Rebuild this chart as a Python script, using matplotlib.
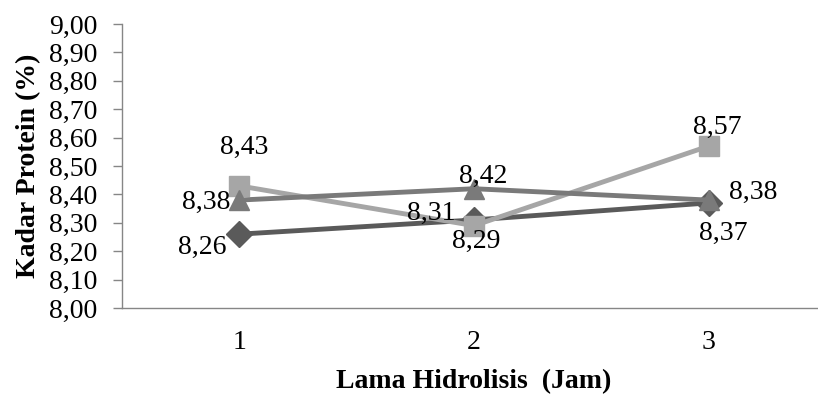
import matplotlib.pyplot as plt
import numpy as np

plt.rcParams['font.family'] = ['Liberation Serif', 'DejaVu Serif']

# --- data ---
jam = [1, 2, 3]
diamond_vals = [8.26, 8.31, 8.37]
square_vals = [8.43, 8.29, 8.57]
triangle_vals = [8.38, 8.42, 8.38]

yticks = np.round(np.arange(8.0, 9.001, 0.1), 2)

# label offsets in pixels (dx, dy, ha)
diamond_offs = [(-13, -13, 'right'), (-18, 7, 'right'), (15, -30, 'center')]
square_offs = [(5, 38, 'center'), (2, -16, 'center'), (9, 19, 'center')]
triangle_offs = [(-9, -2, 'right'), (9, 12, 'center'), (20, 8, 'left')]

FS = 20
W, H = 818, 396
fig = plt.figure(figsize=(W / 100, H / 100), dpi=100)
left, right, top, bottom = 122, 826, 24, 308
ax = fig.add_axes([left / W, 1 - bottom / H, (right - left) / W, (bottom - top) / H])

series = [
    (diamond_vals, 'D', '#5a5a5a', 13, diamond_offs),
    (square_vals, 's', '#a6a6a6', 15, square_offs),
    (triangle_vals, '^', '#7a7a7a', 15, triangle_offs),
]
for vals, mk, col, ms, offs in series:
    ax.plot(jam, vals, color=col, lw=3.5, marker=mk, ms=ms, mec=col, mfc=col, clip_on=False)
    for x, v, (dx, dy, ha) in zip(jam, vals, offs):
        ax.annotate(f"{v:.2f}".replace('.', ','), (x, v), xytext=(dx, dy),
                    textcoords='offset pixels', ha=ha, va='center', fontsize=FS, color='black')

ax.set_xlim(0.5, 3.5)
ax.set_ylim(8.0, 9.0)
ax.set_yticks(yticks)
ax.set_yticklabels([f"{t:.2f}".replace('.', ',') for t in yticks], fontsize=FS)
ax.set_xticks(jam)
ax.set_xticklabels([str(j) for j in jam], fontsize=FS)
ax.tick_params(axis='x', length=0, pad=16)
ax.tick_params(axis='y', length=6.5, width=1, color='#868686', pad=11)

for s in ['top', 'right']:
    ax.spines[s].set_visible(False)
for s in ['left', 'bottom']:
    ax.spines[s].set_color('#868686')
    ax.spines[s].set_linewidth(1)

ax.set_ylabel('Kadar Protein (%)', fontsize=FS, fontweight='bold', labelpad=6)
ax.set_xlabel('Lama Hidrolisis  (Jam)', fontsize=FS, fontweight='bold', labelpad=10)

fig.savefig('out.png', dpi=100)
